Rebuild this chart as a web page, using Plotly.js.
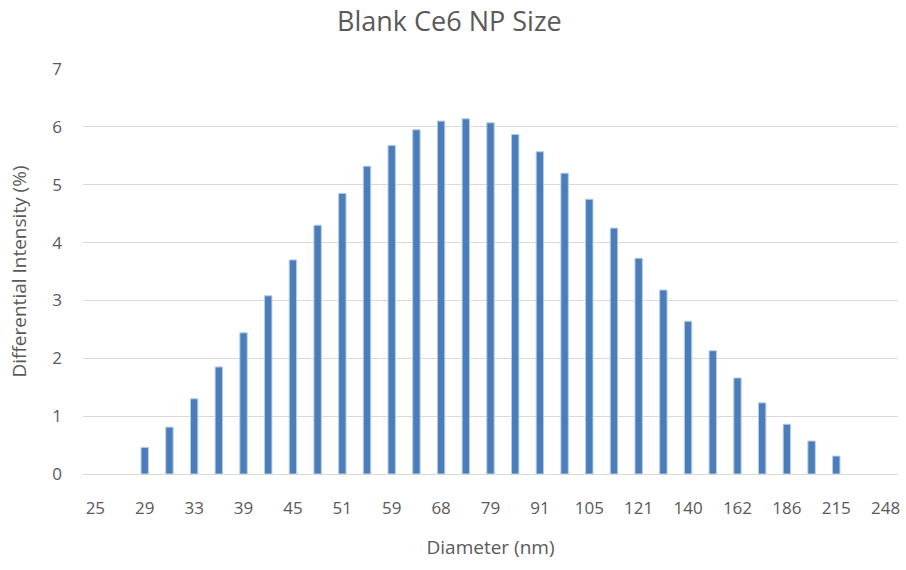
<!DOCTYPE html>
<html>
<head>
<meta charset="utf-8">
<script src="https://cdn.plot.ly/plotly-3.0.1.min.js"></script>
<style>html,body{margin:0;padding:0;background:#fff;}#chart{width:906px;height:570px;}</style>
</head>
<body>
<div id="chart"></div>
<script>
var diameters = ["25","27","29","31","33","36","39","42","45","48","51","55","59","63","68","73","79","85","91","98","105","113","121","130","140","151","162","174","186","200","215","231","248"];
var intensity = [0,0,0.46,0.81,1.30,1.85,2.44,3.08,3.70,4.30,4.85,5.32,5.68,5.95,6.10,6.14,6.07,5.87,5.57,5.20,4.75,4.25,3.73,3.18,2.64,2.13,1.66,1.23,0.86,0.57,0.31,0,0];
var shownTicks = ["25","29","33","39","45","51","59","68","79","91","105","121","140","162","186","215","248"];

var trace = {
  type: 'bar',
  x: diameters,
  y: intensity,
  marker: {color: '#4a7ebb', line: {color: '#b9cde6', width: intensity.map(function(v){return v > 0 ? 1 : 0;})}},
  hoverinfo: 'x+y'
};
var font = "'Open Sans', 'Liberation Sans', sans-serif";
var layout = {
  width: 906, height: 570,
  margin: {l: 83, r: 8, t: 69, b: 96},
  paper_bgcolor: '#fff', plot_bgcolor: '#fff',
  bargap: 0.7,
  showlegend: false,
  title: {text: 'Blank Ce6 NP Size', font: {family: font, size: 27, color: '#595959'}, xref: 'container', x: 0.496, xanchor: 'center', yref: 'container', y: 0.962, yanchor: 'middle'},
  xaxis: {
    type: 'category',
    categoryorder: 'array', categoryarray: diameters,
    range: [-0.5, 32.5],
    tickmode: 'array', tickvals: shownTicks, ticktext: shownTicks,
    showgrid: false, zeroline: false, showline: false, ticks: '',
    tickfont: {family: font, size: 17, color: '#595959'},
    ticklabelstandoff: 22,
    title: {text: 'Diameter (nm)', font: {family: font, size: 19, color: '#595959'}, standoff: 22}
  },
  yaxis: {
    range: [0, 7], dtick: 1,
    showgrid: true, gridcolor: '#d9d9d9', gridwidth: 1,
    zeroline: true, zerolinecolor: '#d9d9d9', zerolinewidth: 1,
    showline: false, ticks: '',
    tickfont: {family: font, size: 17, color: '#595959'},
    ticklabelstandoff: 20,
    title: {text: 'Differential Intensity (%)', font: {family: font, size: 19, color: '#595959'}, standoff: 20}
  }
};
Plotly.newPlot('chart', [trace], layout, {displayModeBar: false, staticPlot: true});
</script>
</body>
</html>
